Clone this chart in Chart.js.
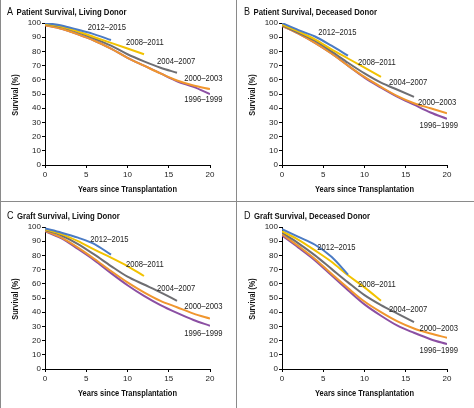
<!DOCTYPE html>
<html>
<head>
<meta charset="utf-8">
<script src="https://cdn.jsdelivr.net/npm/chart.js@4.4.0/dist/chart.umd.min.js"></script>
<style>
  body { margin: 0; background: #fff; }
  #wrap { position: relative; width: 474px; height: 408px; overflow: hidden;
          font-family: "Liberation Sans", sans-serif; color: #111; }
  .panel { position: absolute; width: 237px; height: 204px; }
  .head { position: absolute; left: 7px; top: 4px; height: 12px; line-height: 12px; white-space: nowrap;
          transform: scaleX(0.86); transform-origin: left center; }
  .head .letter { font-size: 10.5px; margin-right: 4px; }
  .head .txt { font-size: 9px; font-weight: bold; }
  .xt { position: absolute; left: 0; width: 255px; top: 183px; height: 12px; line-height: 12px;
        text-align: center; font-size: 8.5px; font-weight: bold; white-space: nowrap;
        transform: scaleX(0.88); transform-origin: 127.5px center; }
  .yt { position: absolute; left: 15px; top: 95px; width: 80px; height: 12px; line-height: 12px;
        margin-left: -40px; margin-top: -6px; text-align: center; font-size: 8.5px; font-weight: bold;
        white-space: nowrap; transform: rotate(-90deg) scaleX(0.85); }
  .line { position: absolute; background: #8a8a8a; }
</style>
</head>
<body>
<div id="wrap">
  <div class="panel" style="left:0;top:0"><canvas id="chartA"></canvas>
    <div class="head"><span class="letter">A</span><span class="txt">Patient Survival, Living Donor</span></div>
    <div class="yt">Survival (%)</div><div class="xt">Years since Transplantation</div></div>
  <div class="panel" style="left:237px;top:0"><canvas id="chartB"></canvas>
    <div class="head"><span class="letter">B</span><span class="txt">Patient Survival, Deceased Donor</span></div>
    <div class="yt">Survival (%)</div><div class="xt">Years since Transplantation</div></div>
  <div class="panel" style="left:0;top:204px"><canvas id="chartC"></canvas>
    <div class="head"><span class="letter">C</span><span class="txt">Graft Survival, Living Donor</span></div>
    <div class="yt">Survival (%)</div><div class="xt">Years since Transplantation</div></div>
  <div class="panel" style="left:237px;top:204px"><canvas id="chartD"></canvas>
    <div class="head"><span class="letter">D</span><span class="txt">Graft Survival, Deceased Donor</span></div>
    <div class="yt">Survival (%)</div><div class="xt">Years since Transplantation</div></div>
  <div class="line" style="left:0;top:0;width:1px;height:408px"></div>
  <div class="line" style="left:236px;top:0;width:1px;height:408px"></div>
  <div class="line" style="left:0;top:201px;width:474px;height:1px"></div>
</div>

<script>
// Jahre (x-Werte), jede Kurve hört bei ihrer letzten Angabe auf
const years = [0, 2, 4, 6, 8, 10, 12, 14, 16, 18, 20];
const periods = ["2012–2015", "2008–2011", "2004–2007", "2000–2003", "1996–1999"];
const colors = ["#4b7bc4", "#f2c200", "#6e6e72", "#f0962e", "#8b4fa3"];

// A: Patient Survival, Living Donor
const patLiv2012 = [100, 98.3, 95.2, 92, 88];
const patLiv2008 = [99.5, 97.5, 94, 90, 86, 82, 78];
const patLiv2004 = [99.5, 97.3, 93.5, 89, 84, 78, 73, 68.5, 65];
const patLiv2000 = [98.5, 96, 92, 87.5, 82, 75.5, 70, 64.5, 59.5, 56, 53.5];
const patLiv1996 = [98.5, 96, 92, 87.5, 82, 75.5, 70, 64.5, 59, 55, 50];

// B: Patient Survival, Deceased Donor
const patDec2012 = [100, 95, 90.5, 84, 77];
const patDec2008 = [99, 94, 88.5, 81.5, 75, 68.5, 62];
const patDec2004 = [98.5, 93, 87.5, 80, 72, 64.5, 58, 53, 48];
const patDec2000 = [98, 92.5, 86, 78.5, 70, 62, 55, 48.5, 43.5, 40, 36.5];
const patDec1996 = [98, 92.5, 86, 78.5, 70, 61.5, 54.5, 48, 42.5, 37, 32.5];

// C: Graft Survival, Living Donor
const grfLiv2012 = [99, 96, 92.5, 88, 80.5];
const grfLiv2008 = [98.5, 95, 90, 84, 78.5, 72.5, 65.5];
const grfLiv2004 = [98, 94, 88, 80.5, 72.5, 65, 59.5, 54, 48];
const grfLiv2000 = [97.5, 92.5, 85.5, 77.5, 69, 61, 54, 48, 43.5, 39, 35.5];
const grfLiv1996 = [97, 92, 84.5, 76.5, 67.5, 59, 51.5, 45, 39.5, 34.5, 30.5];

// D: Graft Survival, Deceased Donor
const grfDec2012 = [98.5, 93, 87.5, 79, 66.5];
const grfDec2008 = [97, 91, 83.5, 75.5, 66, 57.5, 48];
const grfDec2004 = [96, 88.5, 80, 70.5, 61, 52, 45, 39, 33];
const grfDec2000 = [95, 86.5, 77.5, 67, 57, 47.5, 40, 33.5, 28.5, 25, 22];
const grfDec1996 = [94, 85.5, 76.5, 66, 55.5, 45.5, 37.5, 30.5, 25.5, 21, 17.5];

// Wo die Beschriftungen stehen (Mitte des Texts, in Achsen-Einheiten)
const labelPosA = [[7.5, 96.7], [12.1, 86], [15.9, 73], [19.2, 60.7], [19.2, 46]];
const labelPosB = [[6.7, 93.2], [11.5, 72.3], [15.3, 58], [18.8, 44], [19, 27.7]];
const labelPosC = [[7.8, 91.3], [12.1, 73.7], [15.9, 56.8], [19.2, 43.9], [19.2, 24.9]];
const labelPosD = [[6.6, 85.5], [11.5, 59.6], [15.3, 42], [19, 28.7], [19, 13.2]];

const tickFont = { family: '"Liberation Sans", sans-serif', size: 8 };

// Hilfsfunktion: Jahre + Werte zu Punkten
function toPoints(values) {
  let punkte = [];
  for (let i = 0; i < values.length; i++) {
    punkte.push({ x: years[i], y: values[i] });
  }
  return punkte;
}

// Beschriftung der Kurven direkt im Diagramm (etwas schmaler gezogen)
const periodLabels = {
  id: "periodLabels",
  afterDatasetsDraw(chart, args, opts) {
    const ctx = chart.ctx;
    const xs = chart.scales.x;
    const ys = chart.scales.y;
    ctx.save();
    ctx.font = '8.5px "Liberation Sans", sans-serif';
    ctx.fillStyle = "#222";
    ctx.textAlign = "center";
    ctx.textBaseline = "middle";
    chart.data.datasets.forEach(function (ds, i) {
      const pos = opts.positions[i];
      ctx.save();
      ctx.translate(xs.getPixelForValue(pos[0]), ys.getPixelForValue(pos[1]));
      ctx.scale(0.9, 1);
      ctx.fillText(ds.label, 0, 0);
      ctx.restore();
    });
    ctx.restore();
  }
};

function makeChart(canvasId, series, labelPos) {
  let datasets = [];
  for (let i = 0; i < series.length; i++) {
    datasets.push({
      label: periods[i],
      data: toPoints(series[i]),
      borderColor: colors[i],
      backgroundColor: colors[i],
      borderWidth: 2,
      pointRadius: 0,
      cubicInterpolationMode: "monotone",
      order: i
    });
  }

  const axisGrid = { display: true, drawOnChartArea: false, drawTicks: true, tickLength: 3, color: "#000" };

  return new Chart(document.querySelector(canvasId), {
    type: "line",
    data: { datasets: datasets },
    plugins: [periodLabels],
    options: {
      responsive: true,
      maintainAspectRatio: false,
      animation: false,
      layout: { padding: { top: 23, right: 27, left: 0, bottom: 0 } },
      plugins: {
        legend: { display: false },
        tooltip: { enabled: false },
        periodLabels: { positions: labelPos }
      },
      scales: {
        x: {
          type: "linear",
          min: 0,
          max: 20,
          ticks: { stepSize: 5, font: tickFont, color: "#222", padding: 2, maxRotation: 0 },
          grid: axisGrid,
          border: { display: true, color: "#000", width: 1 },
          afterFit: function (scale) { scale.height = 39; }
        },
        y: {
          min: 0,
          max: 100,
          ticks: { stepSize: 10, font: tickFont, color: "#222", padding: 1 },
          grid: axisGrid,
          border: { display: true, color: "#000", width: 1 },
          afterFit: function (scale) { scale.width = 45; }
        }
      }
    }
  });
}

makeChart("#chartA", [patLiv2012, patLiv2008, patLiv2004, patLiv2000, patLiv1996], labelPosA);
makeChart("#chartB", [patDec2012, patDec2008, patDec2004, patDec2000, patDec1996], labelPosB);
makeChart("#chartC", [grfLiv2012, grfLiv2008, grfLiv2004, grfLiv2000, grfLiv1996], labelPosC);
makeChart("#chartD", [grfDec2012, grfDec2008, grfDec2004, grfDec2000, grfDec1996], labelPosD);
</script>
</body>
</html>
